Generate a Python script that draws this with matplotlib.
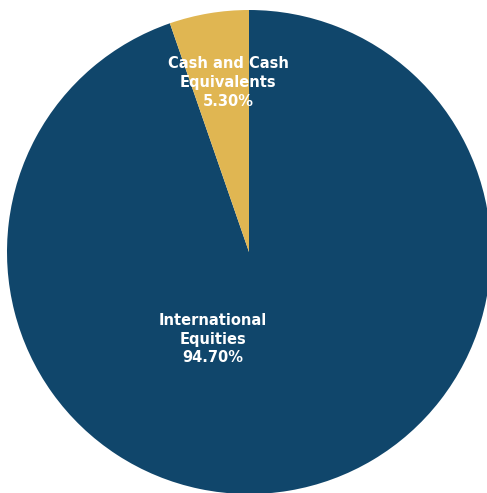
import matplotlib
matplotlib.use("Agg")
import matplotlib.pyplot as plt

categories = ["International\nEquities", "Cash and Cash\nEquivalents"]
values = [94.70, 5.30]
colors = ["#10466b", "#e0b652"]
label_pos = [(-0.15, -0.36), (-0.085, 0.70)]

fig = plt.figure(figsize=(4.87, 4.93), dpi=100)
ax = fig.add_axes([7 / 487, -1 / 493, 484 / 487, 484 / 493])
ax.pie(values, colors=colors, startangle=90, counterclock=False, radius=1.0,
       wedgeprops=dict(linewidth=0))
for name, v, (x, y) in zip(categories, values, label_pos):
    ax.text(x, y, f"{name}\n{v:.2f}%", ha="center", va="center", color="white",
            fontsize=10.5, fontweight="bold", family="DejaVu Sans", linespacing=1.3)
ax.set_xlim(-1, 1)
ax.set_ylim(-1, 1)
ax.set_aspect("auto")
ax.axis("off")
fig.savefig("out.png", dpi=100)
